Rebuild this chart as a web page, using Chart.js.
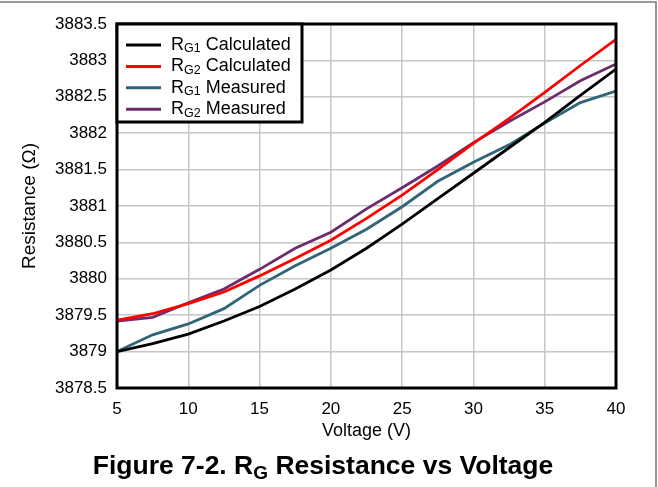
<!DOCTYPE html>
<html>
<head>
<meta charset="utf-8">
<title>RG Resistance vs Voltage</title>
<script src="https://cdn.jsdelivr.net/npm/chart.js@4.4.1/dist/chart.umd.min.js"></script>
<style>
    html, body { margin: 0; padding: 0; background: #fff; }
    #wrap { position: relative; width: 658px; height: 487px; }
</style>
</head>
<body>
<div id="wrap"><canvas id="rgChart" width="658" height="487"></canvas></div>
<script>
    // Supply voltage sweep (V)
    const voltage = [5, 7.5, 10, 12.5, 15, 17.5, 20, 22.5, 25, 27.5, 30, 32.5, 35, 37.5, 40];

    // Resistance readings (ohm)
    const rg1Calculated = [3879.00, 3879.11, 3879.24, 3879.42, 3879.62, 3879.86, 3880.12, 3880.42, 3880.75, 3881.10, 3881.45, 3881.80, 3882.15, 3882.52, 3882.88];
    const rg2Calculated = [3879.43, 3879.52, 3879.66, 3879.82, 3880.04, 3880.28, 3880.53, 3880.83, 3881.15, 3881.50, 3881.86, 3882.20, 3882.56, 3882.93, 3883.29];
    const rg1Measured   = [3879.00, 3879.23, 3879.38, 3879.59, 3879.91, 3880.18, 3880.42, 3880.68, 3880.99, 3881.34, 3881.60, 3881.84, 3882.14, 3882.42, 3882.58];
    const rg2Measured   = [3879.42, 3879.47, 3879.67, 3879.86, 3880.13, 3880.42, 3880.64, 3880.96, 3881.25, 3881.55, 3881.87, 3882.16, 3882.43, 3882.72, 3882.95];

    // Axis ticks
    const xTicks = [5, 10, 15, 20, 25, 30, 35, 40];
    const yTicks = [3878.5, 3879, 3879.5, 3880, 3880.5, 3881, 3881.5, 3882, 3882.5, 3883, 3883.5];

    // Legend pieces: R + subscript + name
    const seriesSub  = ['G1', 'G2', 'G1', 'G2'];
    const seriesName = ['Calculated', 'Calculated', 'Measured', 'Measured'];
    const seriesColor = ['#000000', '#ff0000', '#2f6479', '#6b2d6c'];

    const FONT = '"Liberation Sans", Arial, Helvetica, sans-serif';

    function toPoints(values) {
        return values.map((v, i) => ({ x: voltage[i], y: v }));
    }

    // draw a run of text pieces with their own font / vertical shift
    function drawRich(ctx, parts, x, y) {
        parts.forEach(p => {
            ctx.font = p.font;
            ctx.fillText(p.text, x, y + (p.dy || 0));
            x += ctx.measureText(p.text).width;
        });
    }
    function richWidth(ctx, parts) {
        let w = 0;
        parts.forEach(p => { ctx.font = p.font; w += ctx.measureText(p.text).width; });
        return w;
    }

    const figureDecor = {
        id: 'figureDecor',
        beforeDraw(chart) {
            const { ctx, width, height } = chart;
            ctx.save();
            ctx.fillStyle = '#fff';
            ctx.fillRect(0, 0, width, height);
            // thin page rules along top and right edge
            ctx.strokeStyle = '#7a7a7a';
            ctx.lineWidth = 1.6;
            ctx.beginPath();
            ctx.moveTo(0, 2);
            ctx.lineTo(656, 2);
            ctx.lineTo(656, height);
            ctx.stroke();
            ctx.restore();
        },
        afterDraw(chart) {
            const { ctx, chartArea: a } = chart;
            ctx.save();

            // plot frame
            ctx.strokeStyle = '#000';
            ctx.lineWidth = 3;
            ctx.strokeRect(a.left, a.top, a.right - a.left, a.bottom - a.top);

            // legend box in the upper-left corner
            const bx = a.left, by = a.top, bw = 185, bh = 98;
            ctx.fillStyle = '#fff';
            ctx.fillRect(bx, by, bw, bh);
            ctx.strokeRect(bx, by, bw, bh);

            ctx.textBaseline = 'middle';
            ctx.textAlign = 'left';
            chart.data.datasets.forEach((ds, i) => {
                const y = by + 21 + i * 21.4;
                ctx.strokeStyle = ds.borderColor;
                ctx.lineWidth = 3;
                ctx.beginPath();
                ctx.moveTo(bx + 9, y);
                ctx.lineTo(bx + 44, y);
                ctx.stroke();
                ctx.fillStyle = '#000';
                drawRich(ctx, [
                    { text: 'R', font: '18px ' + FONT },
                    { text: seriesSub[i], font: '12.5px ' + FONT, dy: 4 },
                    { text: ' ' + seriesName[i], font: '18px ' + FONT }
                ], bx + 54, y);
            });

            // figure caption
            const cap = [
                { text: 'Figure 7-2. R', font: 'bold 26.5px ' + FONT },
                { text: 'G', font: 'bold 19px ' + FONT, dy: 5 },
                { text: ' Resistance vs Voltage', font: 'bold 26.5px ' + FONT }
            ];
            ctx.fillStyle = '#000';
            ctx.textBaseline = 'alphabetic';
            const cw = richWidth(ctx, cap);
            drawRich(ctx, cap, 323 - cw / 2, 474);

            ctx.restore();
        }
    };

    const datasets = [rg1Calculated, rg2Calculated, rg1Measured, rg2Measured].map((vals, i) => ({
        label: 'R' + seriesSub[i] + ' ' + seriesName[i],
        data: toPoints(vals),
        borderColor: seriesColor[i],
        backgroundColor: seriesColor[i],
        borderWidth: 2.8,
        pointRadius: 0,
        tension: 0,
        fill: false
    }));

    new Chart(document.getElementById('rgChart'), {
        type: 'line',
        data: { datasets: datasets },
        options: {
            responsive: false,
            animation: false,
            devicePixelRatio: 1,
            layout: { padding: { top: 24, right: 42, bottom: 44, left: 0 } },
            plugins: {
                legend: { display: false },
                tooltip: { enabled: false }
            },
            scales: {
                x: {
                    type: 'linear',
                    min: 5,
                    max: 40,
                    afterBuildTicks: s => { s.ticks = xTicks.map(v => ({ value: v })); },
                    afterFit: s => { s.height = 55; },
                    grid: { color: '#c6c6c6', lineWidth: 1.5, drawTicks: false },
                    border: { display: false },
                    ticks: {
                        color: '#000',
                        padding: 11,
                        maxRotation: 0,
                        font: { family: FONT, size: 17 },
                        callback: v => String(v)
                    },
                    title: {
                        display: true,
                        text: 'Voltage (V)',
                        color: '#000',
                        font: { family: FONT, size: 18 },
                        padding: { top: 0, bottom: 1 }
                    }
                },
                y: {
                    type: 'linear',
                    min: 3878.5,
                    max: 3883.5,
                    afterBuildTicks: s => { s.ticks = yTicks.map(v => ({ value: v })); },
                    afterFit: s => { s.width = 117; },
                    grid: { color: '#c6c6c6', lineWidth: 1.5, drawTicks: false },
                    border: { display: false },
                    ticks: {
                        color: '#000',
                        padding: 10,
                        font: { family: FONT, size: 17 },
                        callback: v => String(v)
                    },
                    title: {
                        display: true,
                        text: 'Resistance (Ω)',
                        color: '#000',
                        font: { family: FONT, size: 19 },
                        padding: { top: 18, bottom: 0 }
                    }
                }
            }
        },
        plugins: [figureDecor]
    });
</script>
</body>
</html>
